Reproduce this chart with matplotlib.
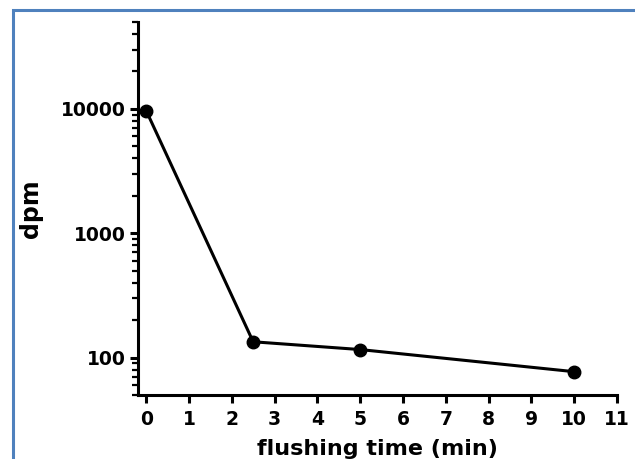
import matplotlib
matplotlib.use("Agg")
import matplotlib.pyplot as plt
from matplotlib.patches import Rectangle
from matplotlib.ticker import LogLocator, NullFormatter, FixedLocator

# data
flush_time = [0, 2.5, 5, 10]
dpm = [9700, 134, 116, 77]
x_ticks = list(range(0, 12))
y_ticks = [100, 1000, 10000]

plt.rcParams['font.family'] = ['DejaVu Sans']
plt.rcParams['font.weight'] = 'bold'

fig = plt.figure(figsize=(6.35, 4.59), dpi=100)
ax = fig.add_axes([138 / 635, 1 - 395 / 459, (617 - 138) / 635, (395 - 22) / 459])

ax.plot(flush_time, dpm, color='black', lw=2.2, marker='o', ms=9, zorder=3, clip_on=False)

ax.set_yscale('log')
ax.set_ylim(50, 50000)
ax.set_xlim(-0.19, 11)

ax.xaxis.set_major_locator(FixedLocator(x_ticks))
ax.set_xticklabels([str(t) for t in x_ticks])
ax.yaxis.set_major_locator(FixedLocator(y_ticks))
ax.set_yticklabels([str(t) for t in y_ticks])
ax.yaxis.set_minor_locator(LogLocator(base=10, subs=range(2, 10)))
ax.yaxis.set_minor_formatter(NullFormatter())

for s in ['top', 'right']:
    ax.spines[s].set_visible(False)
for s in ['left', 'bottom']:
    ax.spines[s].set_linewidth(2.2)
ax.spines['bottom'].set_bounds(-0.19, 11)

ax.tick_params(axis='both', which='major', length=6, width=2.2, labelsize=13.5, pad=3)
ax.tick_params(axis='x', which='major', pad=5)
ax.tick_params(axis='y', which='minor', length=4, width=1.6)
for lab in ax.get_xticklabels() + ax.get_yticklabels():
    lab.set_fontweight('bold')

ax.set_xlabel('flushing time (min)', fontsize=16, fontweight='bold', labelpad=7)
ax.set_ylabel('dpm', fontsize=17, fontweight='bold', labelpad=13)

# blue frame around the figure
fig.patches.append(Rectangle((12.5 / 635, -0.1), 1.2, 1.1 - 10 / 459,
                             transform=fig.transFigure, fill=False,
                             edgecolor='#4F81BD', lw=2.2))

fig.savefig('out.png', dpi=100)
